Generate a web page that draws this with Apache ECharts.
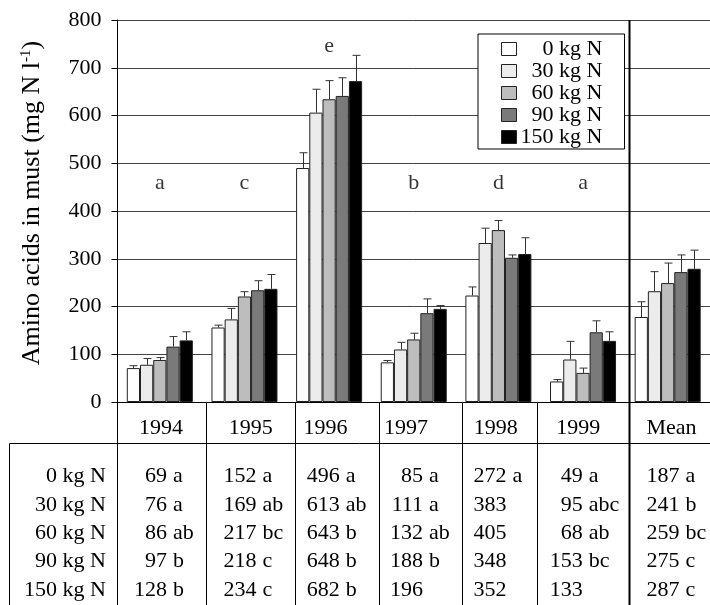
<!DOCTYPE html>
<html><head><meta charset="utf-8">
<script src="https://cdn.jsdelivr.net/npm/echarts@6/dist/echarts.min.js"></script>
<style>html,body{margin:0;padding:0;background:#fff}#c{width:710px;height:605px}</style>
</head><body><div id="c"></div>
<script>
// ---------- data ----------
const categories = ['1994', '1995', '1996', '1997', '1998', '1999', 'Mean'];
const seriesNames = ['0 kg N', '30 kg N', '60 kg N', '90 kg N', '150 kg N'];
const yMin = 0, yMax = 800, yStep = 100;

// bar heights
const bars0kg   = [71, 156, 490, 83, 223, 43, 178];
const bars30kg  = [78, 173, 606, 110, 333, 89, 232];
const bars60kg  = [88, 221, 634, 131, 360, 61, 249];
const bars90kg  = [116, 234, 641, 186, 302, 146, 272];
const bars150kg = [129, 237, 672, 195, 310, 128, 279];

// upper error (bar top to whisker cap)
const err0kg   = [5, 5, 32, 4, 18, 4, 32];
const err30kg  = [13, 23, 49, 15, 31, 38, 41];
const err60kg  = [5, 10, 39, 13, 20, 10, 42];
const err90kg  = [21, 20, 38, 30, 6, 24, 36];
const err150kg = [18, 30, 54, 7, 34, 19, 39];

// year significance letters above groups
const yearLetters = ['a', 'c', 'e', 'b', 'd', 'a', ''];
const yearLetterY = [459, 459, 746, 459, 459, 459, null];

// table below the chart
const table0kg   = [69, 152, 496, 85, 272, 49, 187];
const table30kg  = [76, 169, 613, 111, 383, 95, 241];
const table60kg  = [86, 217, 643, 132, 405, 68, 259];
const table90kg  = [97, 218, 648, 188, 348, 153, 275];
const table150kg = [128, 234, 682, 196, 352, 133, 287];
const sig0kg   = ['a', 'a', 'a', 'a', 'a', 'a', 'a'];
const sig30kg  = ['a', 'ab', 'ab', 'a', '', 'abc', 'b'];
const sig60kg  = ['ab', 'bc', 'b', 'ab', '', 'ab', 'bc'];
const sig90kg  = ['b', 'c', 'b', 'b', '', 'bc', 'c'];
const sig150kg = ['b', 'c', 'b', '', '', '', 'c'];

// ---------- styling / layout ----------
const FONT = '"Liberation Serif", "Times New Roman", serif';
const barColors = ['#ffffff', '#ececec', '#bdbdbd', '#7a7a7a', '#000000'];
const allBars = [bars0kg, bars30kg, bars60kg, bars90kg, bars150kg];
const allErr = [err0kg, err30kg, err60kg, err90kg, err150kg];
const allTable = [table0kg, table30kg, table60kg, table90kg, table150kg];
const allSig = [sig0kg, sig30kg, sig60kg, sig90kg, sig150kg];
const catGapFrac = 0.22;

const yearShift = [1.3, 6.3, -3.5, -7.8, -2.6, -4.9, 3.8];
const yearRich = {};
yearShift.forEach((d, i) => {
  yearRich['y' + i] = {
    fontSize: 22, fontFamily: FONT, color: '#000', lineHeight: 22,
    padding: d >= 0 ? [0, 0, 0, 2 * d] : [0, -2 * d, 0, 0]
  };
});

const chart = echarts.init(document.getElementById('c'), null, { renderer: 'canvas' });

const series = [];
seriesNames.forEach((name, j) => {
  series.push({
    name, type: 'bar', data: allBars[j],
    barGap: '0%', barCategoryGap: (catGapFrac * 100) + '%',
    itemStyle: { color: barColors[j], borderColor: '#222', borderWidth: 1 },
    emphasis: { disabled: true }, z: 2
  });
});
seriesNames.forEach((name, j) => {
  series.push({
    type: 'custom', z: 3, silent: true,
    data: allBars[j].map((v, i) => [i, v, allErr[j][i]]),
    renderItem: function (params, api) {
      const i = api.value(0), m = api.value(1), e = api.value(2);
      const catW = api.size([1, 0])[0];
      const bw = catW * (1 - catGapFrac) / seriesNames.length;
      const base = api.coord([i, m]);
      const top = api.coord([i, m + e]);
      const x = Math.round(base[0] + (j - 2) * bw) + 0.5;
      return {
        type: 'group', children: [
          { type: 'line', shape: { x1: x, y1: base[1], x2: x, y2: top[1] }, style: { stroke: '#333', lineWidth: 1 } },
          { type: 'line', shape: { x1: x - 4, y1: top[1], x2: x + 4, y2: top[1] }, style: { stroke: '#333', lineWidth: 1 } }
        ]
      };
    }
  });
});
series.push({
  type: 'scatter', z: 4, silent: true, symbolSize: 1,
  itemStyle: { color: 'transparent' },
  data: yearLetterY.map((y, i) => [i, y, yearLetters[i]]).filter(d => d[1] !== null),
  label: {
    show: true, position: 'inside', formatter: p => p.value[2],
    fontSize: 22, fontFamily: FONT, color: '#000'
  }
});

// table graphics
const graphics = [];
const LINE = { stroke: '#000', lineWidth: 1 };
const vLines = [117.5, 206.5, 295.5, 379.5, 462.5, 537.5];
vLines.forEach(x => graphics.push({ type: 'line', shape: { x1: x, y1: 402, x2: x, y2: 605 }, style: LINE, z: 10 }));
graphics.push({ type: 'line', shape: { x1: 629.5, y1: 20, x2: 629.5, y2: 605 }, style: { stroke: '#000', lineWidth: 2 }, z: 10 });
graphics.push({ type: 'line', shape: { x1: 9.5, y1: 443.5, x2: 710, y2: 443.5 }, style: LINE, z: 10 });
graphics.push({ type: 'line', shape: { x1: 9.5, y1: 443.5, x2: 9.5, y2: 605 }, style: LINE, z: 10 });
const rowY = [476.7, 505, 533.3, 561.7, 590];
const numRight = [167, 256.4, 339.8, 423, 506.4, 582.8, 679.4];
const tFont = '22px ' + FONT;
seriesNames.forEach((name, j) => {
  graphics.push({ type: 'text', x: 106, y: rowY[j], style: { text: name, font: tFont, fill: '#000', align: 'right', verticalAlign: 'middle' }, z: 10 });
  allTable[j].forEach((v, i) => {
    graphics.push({ type: 'text', x: numRight[i], y: rowY[j], style: { text: String(v), font: tFont, fill: '#000', align: 'right', verticalAlign: 'middle' }, z: 10 });
    if (allSig[j][i]) {
      graphics.push({ type: 'text', x: numRight[i] + 6, y: rowY[j], style: { text: allSig[j][i], font: tFont, fill: '#000', align: 'left', verticalAlign: 'middle' }, z: 10 });
    }
  });
});

const option = {
  animation: false,
  backgroundColor: '#fff',
  grid: { left: 117.5, top: 20, width: 600.6, height: 382, containLabel: false },
  legend: {
    orient: 'vertical', left: 478, top: 34,
    padding: [4, 22, 1, 23], itemGap: 0,
    itemWidth: 15, itemHeight: 13, icon: 'rect',
    backgroundColor: '#fff', borderColor: '#000', borderWidth: 1,
    selectedMode: false,
    data: seriesNames.map((n, j) => ({ name: n, itemStyle: { color: barColors[j], borderColor: '#222', borderWidth: 1 } })),
    formatter: n => '{r|' + n + '}',
    textStyle: {
      rich: { r: { width: 81, align: 'right', fontSize: 22, fontFamily: FONT, color: '#000', lineHeight: 24 } }
    }
  },
  xAxis: {
    type: 'category', data: categories,
    axisLine: { show: true, lineStyle: { color: '#000', width: 1 } },
    axisTick: { show: false },
    splitLine: { show: false },
    axisLabel: {
      margin: 15, interval: 0,
      formatter: (v, idx) => '{y' + idx + '|' + v + '}',
      rich: yearRich
    }
  },
  yAxis: {
    type: 'value', min: yMin, max: yMax, interval: yStep,
    axisLine: { show: true, lineStyle: { color: '#000', width: 1 } },
    axisTick: { show: true, length: 6, lineStyle: { color: '#000' } },
    splitLine: { show: true, lineStyle: { color: '#444', width: 1 } },
    axisLabel: { margin: 16, fontSize: 22, fontFamily: FONT, color: '#000' },
    name: '{a|Amino acids in must (mg N l}{s|-1}{a|)}',
    nameLocation: 'middle', nameGap: 71, nameRotate: 90,
    nameTextStyle: {
      padding: [0, 0, 0, 16],
      rich: {
        a: { fontSize: 26, fontFamily: FONT, color: '#000' },
        s: { fontSize: 15, fontFamily: FONT, color: '#000', padding: [0, 0, 13, 0] }
      }
    }
  },
  series,
  graphic: graphics
};
chart.setOption(option);
</script>
</body></html>
